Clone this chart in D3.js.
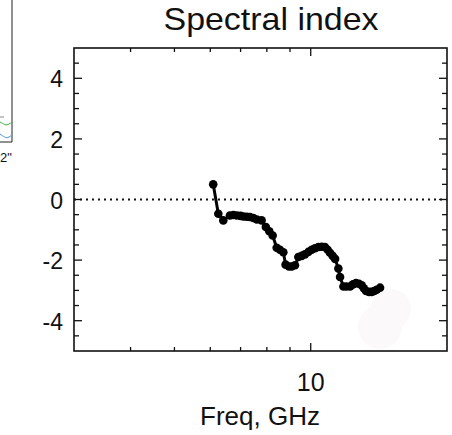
<!DOCTYPE html>
<html>

<head>
    <meta charset="utf-8">
    <script src="https://d3js.org/d3.v7.min.js"></script>
    <style>
        body { margin: 0; background: #fff; }
        text { font-family: 'Liberation Sans', Arial, sans-serif; fill: #111; }
    </style>
</head>

<body>
    <div id="chart"></div>

    <script>
        // spectral index vs frequency (GHz)
        var freq = [6.09, 6.25, 6.41, 6.63, 6.75, 6.87, 7.0, 7.1, 7.22, 7.34, 7.47, 7.6, 7.79, 7.96, 8.1, 8.24, 8.41,
            8.55, 8.7, 8.8, 8.95, 9.08, 9.23, 9.39, 9.55, 9.71, 9.88, 10.05, 10.22, 10.4, 10.58, 10.75, 10.9, 11.03,
            11.18, 11.32, 11.51, 11.61, 11.81, 12.0, 12.22, 12.4, 12.59, 12.78, 12.96, 13.1, 13.25, 13.45, 13.64, 13.82, 13.99, 14.23];
        var index = [0.5, -0.47, -0.69, -0.53, -0.51, -0.53, -0.54, -0.56, -0.57, -0.58, -0.61, -0.66, -0.69, -0.91, -1.05, -1.19, -1.59,
            -1.66, -1.74, -2.15, -2.21, -2.21, -2.17, -1.9, -1.86, -1.81, -1.73, -1.66, -1.61, -1.57, -1.56, -1.57, -1.66, -1.76,
            -1.86, -1.96, -2.28, -2.56, -2.87, -2.87, -2.87, -2.8, -2.76, -2.78, -2.83, -2.93, -3.02, -3.05, -3.05, -3.02, -2.98, -2.91];
        var yTicks = [-4, -2, 0, 2, 4];
        var xTicks = [10];
        var xMinor = [4, 5, 6, 7, 8, 9];
        var titleText = "Spectral index";
        var xLabel = "Freq, GHz";

        var width = 452, height = 435;
        var margin = { left: 74, right: 5, top: 48, bottom: 84 };

        var svg = d3.select("#chart").append("svg")
            .attr("width", width)
            .attr("height", height);

        var x = d3.scaleLog().domain([3, 20]).range([margin.left, width - margin.right]);
        var y = d3.scaleLinear().domain([-5, 5]).range([height - margin.bottom, margin.top]);

        // bit of the neighbouring panel on the left edge
        var left = svg.append("g");
        left.append("path").attr("d", "M0,142H12V0").attr("fill", "none").attr("stroke", "#222").attr("stroke-width", 1);
        left.append("path").attr("d", "M0,117H4").attr("stroke", "#888").attr("stroke-width", 1);
        left.append("path").attr("d", "M0,122C4,124 6,126 9,124S11,123 12,123").attr("fill", "none").attr("stroke", "#3cb043").attr("stroke-width", 1);
        left.append("path").attr("d", "M0,134C3,136 6,139 9,137S11,136 12,136").attr("fill", "none").attr("stroke", "#4a8fe0").attr("stroke-width", 1);
        left.append("text").attr("x", 0).attr("y", 162).attr("font-size", "13px").text("2\"");

        // faint smudge in the lower right
        svg.append("circle").attr("cx", 380).attr("cy", 327).attr("r", 22).attr("fill", "#fbf9f9");
        svg.append("circle").attr("cx", 391).attr("cy", 309).attr("r", 20).attr("fill", "#fbf9f9");

        // zero line
        svg.append("line")
            .attr("x1", x.range()[0]).attr("x2", x.range()[1])
            .attr("y1", y(0)).attr("y2", y(0))
            .attr("stroke", "#111").attr("stroke-width", 2)
            .attr("stroke-dasharray", "2,4");

        // ticks, drawn inward on all four sides
        var ticks = svg.append("g").attr("stroke", "#111").attr("stroke-width", 1.3);
        d3.range(-4.5, 5, 0.5).forEach(function (v) {
            var len = (v % 2 === 0) ? 8 : 5;
            ticks.append("line").attr("x1", x.range()[0]).attr("x2", x.range()[0] + len).attr("y1", y(v)).attr("y2", y(v));
            ticks.append("line").attr("x1", x.range()[1]).attr("x2", x.range()[1] - len).attr("y1", y(v)).attr("y2", y(v));
        });
        xMinor.concat(xTicks).forEach(function (v) {
            var len = xTicks.indexOf(v) >= 0 ? 8 : 4;
            ticks.append("line").attr("x1", x(v)).attr("x2", x(v)).attr("y1", y.range()[0]).attr("y2", y.range()[0] - len);
            ticks.append("line").attr("x1", x(v)).attr("x2", x(v)).attr("y1", y.range()[1]).attr("y2", y.range()[1] + len);
        });

        // frame
        svg.append("rect")
            .attr("x", x.range()[0]).attr("y", y.range()[1])
            .attr("width", x.range()[1] - x.range()[0])
            .attr("height", y.range()[0] - y.range()[1])
            .attr("fill", "none").attr("stroke", "#111").attr("stroke-width", 1.6);

        // tick labels
        svg.selectAll(".ylab").data(yTicks).enter().append("text")
            .attr("class", "ylab")
            .attr("x", x.range()[0] - 11)
            .attr("y", d => y(d) + 9)
            .attr("text-anchor", "end")
            .attr("font-size", "23px")
            .text(d => d);

        svg.selectAll(".xlab").data(xTicks).enter().append("text")
            .attr("class", "xlab")
            .attr("x", d => x(d))
            .attr("y", 391)
            .attr("text-anchor", "middle")
            .attr("font-size", "25px")
            .text(d => d);

        svg.append("text")
            .attr("x", 260).attr("y", 425)
            .attr("text-anchor", "middle")
            .attr("font-size", "25px")
            .attr("textLength", 120)
            .attr("lengthAdjust", "spacingAndGlyphs")
            .text(xLabel);

        svg.append("text")
            .attr("x", 271).attr("y", 30)
            .attr("text-anchor", "middle")
            .attr("font-size", "32px")
            .attr("textLength", 215)
            .attr("lengthAdjust", "spacingAndGlyphs")
            .text(titleText);

        // data
        var pts = freq.map((f, i) => ({ f: f, v: index[i] }));
        svg.append("path")
            .datum(pts)
            .attr("d", d3.line().x(d => x(d.f)).y(d => y(d.v)))
            .attr("fill", "none").attr("stroke", "#000").attr("stroke-width", 3);
        svg.selectAll(".pt").data(pts).enter().append("circle")
            .attr("class", "pt")
            .attr("cx", d => x(d.f)).attr("cy", d => y(d.v))
            .attr("r", 4.3).attr("fill", "#000");
    </script>
</body>

</html>
